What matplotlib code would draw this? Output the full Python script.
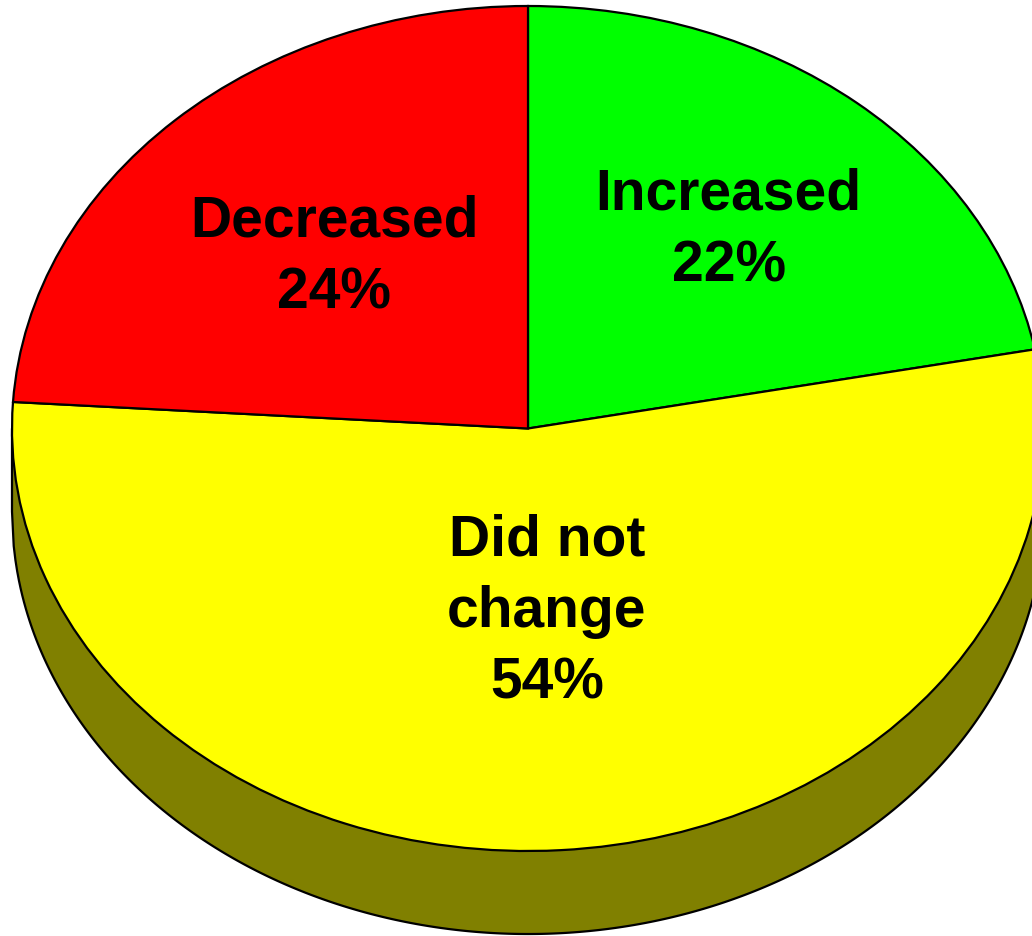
import numpy as np
import matplotlib
matplotlib.use("Agg")
import matplotlib.pyplot as plt

# Survey shares, clockwise from 12 o'clock
categories = ["Increased", "Did not change", "Decreased"]
shares = [22, 54, 24]
label_text = ["Increased\n22%", "Did not\nchange\n54%", "Decreased\n24%"]
slice_colors = ["#00FF00", "#FFFF00", "#FF0000"]
wall_color = "#808000"

# label anchor points in axes fraction
label_pos = [(0.706, 0.754), (0.530, 0.346), (0.324, 0.725)]

W, H = 1032, 936
fig = plt.figure(figsize=(W / 100, H / 100), dpi=100)
ax = fig.add_axes([0, 0, 1, 1])

depth = 0.1965  # thickness of the disc, in pie radii

# side wall of the disc
xs = np.linspace(-1, 1, 600)
ax.fill_between(xs, -np.sqrt(np.clip(1 - xs ** 2, 0, None)) - depth, 0,
                facecolor=wall_color, edgecolor="black", linewidth=1.6, zorder=1)

wedges, _ = ax.pie(shares, colors=slice_colors, startangle=90, counterclock=False,
                   radius=1, center=(0, 0),
                   wedgeprops=dict(edgecolor="black", linewidth=1.6))
for w in wedges:
    w.set_zorder(2)

for txt, (fx, fy) in zip(label_text, label_pos):
    ax.text(fx, fy, txt, transform=ax.transAxes, ha="center", va="center",
            fontsize=41, fontweight="bold", family="Liberation Sans",
            linespacing=1.42, zorder=3)

# squash the disc into a tilted ellipse
ax.set_aspect("auto")
ax.set_xlim(-528 / 516, 504 / 516)
ax.set_ylim((428.5 - 936) / 422.5, 428.5 / 422.5)
ax.axis("off")

fig.savefig("out.png", dpi=100, facecolor="white")
